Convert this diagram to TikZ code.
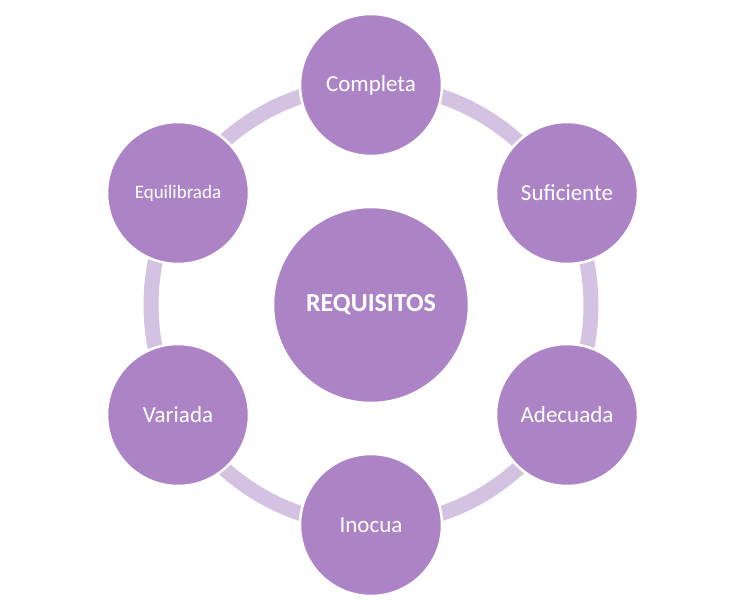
\documentclass[tikz,border=0pt]{standalone}
\usepackage{fontspec}
\setmainfont{Carlito}
\definecolor{lila}{HTML}{AC84C6}
\definecolor{lilaclaro}{HTML}{D3C2E2}
\tikzstyle{req}=[draw=white,circle,fill=lila,line width=2.5pt,text=white,minimum size=142pt,inner sep=0pt,font=\fontsize{23}{26}\selectfont]
\tikzstyle{centro}=[req,minimum size=196pt,font=\bfseries\fontsize{26}{30}\selectfont]
\begin{document}
\begin{tikzpicture}[x=1pt,y=-1pt]
      \useasboundingbox (0,0) rectangle (740,612);
      \node [centro] (req) at (371,305) {REQUISITOS};
      \draw [lilaclaro, line width=15pt] (req.center) circle (220);
      \node [req] (comp) at (371,85) {Completa};
      \node [req] (suf) at (567,193) {Suficiente};
      \node [req] (ade) at (567,415) {Adecuada};
      \node [req] (ino) at (371,525) {Inocua};
      \node [req] (var) at (178,415) {Variada};
      \node [req, font=\fontsize{19}{22}\selectfont] (equi) at (178,193) {Equilibrada};
\end{tikzpicture}
\end{document}
